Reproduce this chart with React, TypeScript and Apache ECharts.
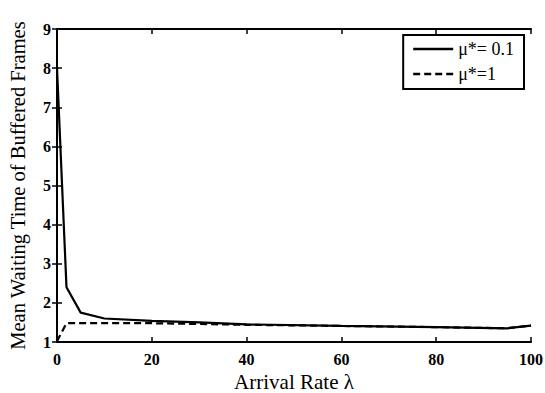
import React, { useEffect, useRef } from "react";
import * as echarts from "echarts";

const xTicks = [0, 20, 40, 60, 80, 100];
const solidX = [0, 2, 5, 10, 20, 30, 40, 60, 80, 95, 100];
const solidY = [8.0, 2.4, 1.75, 1.6, 1.54, 1.5, 1.45, 1.41, 1.38, 1.35, 1.42];
const dashedX = [0, 2, 20, 30, 40, 60, 80, 95, 100];
const dashedY = [1.02, 1.48, 1.48, 1.46, 1.44, 1.41, 1.38, 1.35, 1.42];
const seriesNames = ["μ*= 0.1", "μ*=1"];

const FONT = "Liberation Serif";
const SOLID_ICON = "path://M0,0H40V2.4H0Z";
const DASH_ICON = "path://M0,0H7V2.4H0Z M11,0H18V2.4H11Z M22,0H29V2.4H22Z M33,0H40V2.4H33Z";

export default function App() {
  const ref = useRef<HTMLDivElement>(null);
  useEffect(() => {
    if (!ref.current) return;
    const chart = echarts.init(ref.current, null, { renderer: "svg" });
    const axisLine = { show: true, lineStyle: { color: "#000", width: 2 } };
    const tick = { show: true, inside: true, length: 5, lineStyle: { color: "#000", width: 1.5 } };
    chart.setOption({
      animation: false,
      backgroundColor: "#fff",
      grid: { left: 57, right: 14, top: 29, bottom: 51, outerBoundsMode: "none", containLabel: false },
      legend: {
        right: 21,
        top: 35,
        orient: "vertical",
        itemWidth: 40,
        itemHeight: 2.4,
        itemGap: 7,
        padding: [5, 10, 6, 10],
        borderColor: "#000",
        borderWidth: 2,
        backgroundColor: "#fff",
        textStyle: { fontFamily: FONT, fontSize: 18, color: "#000", lineHeight: 18 },
        data: [
          { name: seriesNames[0], icon: SOLID_ICON, itemStyle: { color: "#000" } },
          { name: seriesNames[1], icon: DASH_ICON, itemStyle: { color: "#000" } },
        ],
      },
      xAxis: [
        {
          type: "value",
          min: 0,
          max: 100,
          interval: 20,
          name: "Arrival Rate λ",
          nameLocation: "middle",
          nameGap: 25,
          nameTextStyle: { fontFamily: FONT, fontSize: 21, lineHeight: 21, color: "#000" },
          axisLine,
          axisTick: tick,
          splitLine: { show: false },
          axisLabel: { fontFamily: FONT, fontSize: 16, fontWeight: "bold", color: "#000", margin: 9 },
        },
        {
          type: "value",
          min: 0,
          max: 100,
          interval: 20,
          position: "top",
          axisLine,
          axisTick: tick,
          axisLabel: { show: false },
          splitLine: { show: false },
        },
      ],
      yAxis: [
        {
          type: "value",
          min: 1,
          max: 9,
          interval: 1,
          name: "Mean Waiting Time of Buffered Frames",
          nameLocation: "middle",
          nameGap: 29,
          nameTextStyle: { fontFamily: FONT, fontSize: 20.5, lineHeight: 21, color: "#000" },
          axisLine,
          axisTick: tick,
          splitLine: { show: false },
          axisLabel: { fontFamily: FONT, fontSize: 16, fontWeight: "bold", color: "#000", margin: 6 },
        },
        {
          type: "value",
          min: 1,
          max: 9,
          interval: 1,
          position: "right",
          axisLine,
          axisTick: tick,
          axisLabel: { show: false },
          splitLine: { show: false },
        },
      ],
      series: [
        {
          name: seriesNames[0],
          type: "line",
          symbol: "none",
          data: solidX.map((x, i) => [x, solidY[i]]),
          lineStyle: { color: "#000", width: 2.2, type: "solid" },
          itemStyle: { color: "#000" },
        },
        {
          name: seriesNames[1],
          type: "line",
          symbol: "none",
          data: dashedX.map((x, i) => [x, dashedY[i]]),
          lineStyle: { color: "#000", width: 2.2, type: [7, 4] },
          itemStyle: { color: "#000" },
        },
      ],
    });
    return () => chart.dispose();
  }, []);
  return <div ref={ref} style={{ width: 545, height: 393, position: "absolute", left: 0, top: 0 }} />;
}
